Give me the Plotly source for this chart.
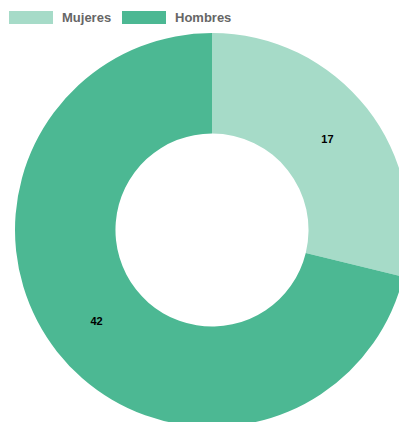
import plotly.graph_objects as go

categories = ["Mujeres", "Hombres"]
values = [17, 42]
colors = ["#a6dbc8", "#4cb893"]

W, H = 424, 427
T = 33
PH = 394

fig = go.Figure(go.Pie(
    labels=categories,
    values=values,
    hole=0.49,
    sort=False,
    direction="clockwise",
    rotation=0,
    marker=dict(colors=colors, line=dict(width=0)),
    textinfo="value",
    textposition="inside",
    insidetextorientation="horizontal",
    textfont=dict(family="Liberation Sans", size=11, color="#000000", weight="bold"),
    showlegend=False,
    hoverinfo="label+value",
))

def px_x(x):
    return x / W

def px_y(y):
    return 1 + (T - y) / PH

shapes = []
annotations = []
swatch_x = [9, 122]
text_x = [60, 173]
for i, cat in enumerate(categories):
    shapes.append(dict(type="rect", xref="paper", yref="paper",
                       x0=px_x(swatch_x[i]), x1=px_x(swatch_x[i] + 44),
                       y0=px_y(24), y1=px_y(11),
                       fillcolor=colors[i], line=dict(width=0)))
    annotations.append(dict(xref="paper", yref="paper", x=px_x(text_x[i]), y=px_y(18),
                            xanchor="left", yanchor="middle", showarrow=False,
                            text=cat,
                            font=dict(family="Liberation Sans", size=13, color="#666666", weight="bold")))

fig.update_layout(
    width=W, height=H, autosize=False,
    margin=dict(l=0, r=0, t=T, b=H - T - PH, pad=0),
    paper_bgcolor="white", plot_bgcolor="white",
    shapes=shapes, annotations=annotations,
)

fig.write_html(
    "out.html",
    config={"displayModeBar": False},
    post_script=(
        "document.body.style.margin='0';"
        "document.body.style.overflow='visible';"
        "document.documentElement.style.overflow='hidden';"
    ),
)
